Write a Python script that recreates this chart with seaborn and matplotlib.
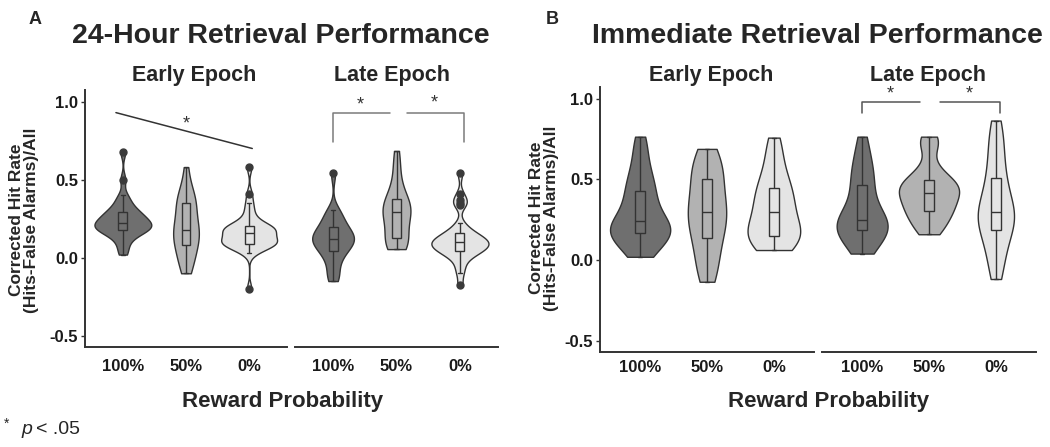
import numpy as np
import pandas as pd
import matplotlib
matplotlib.use("Agg")
import matplotlib.pyplot as plt
import seaborn as sns

# ---------------- data ----------------
categories = ["100%", "50%", "0%"]
y_ticks = [-0.5, 0.0, 0.5, 1.0]
y_tick_labels = ["-0.5", "0.0", "0.5", "1.0"]

# Panel A: 24-hour retrieval
a_early_100 = [0.02, 0.06, 0.10, 0.13, 0.15, 0.16, 0.17, 0.178, 0.185, 0.19, 0.20, 0.205,
               0.21, 0.215, 0.22, 0.23, 0.24, 0.25, 0.26, 0.27, 0.28, 0.29, 0.30, 0.32,
               0.34, 0.37, 0.40, 0.50, 0.68]
a_early_50 = [-0.10, -0.07, -0.03, 0.00, 0.03, 0.05, 0.08, 0.10, 0.12, 0.14, 0.155, 0.17, 0.18,
              0.20, 0.22, 0.25, 0.28, 0.31, 0.35, 0.36, 0.37, 0.39, 0.42, 0.48, 0.58]
a_early_0 = [-0.20, 0.03, 0.05, 0.065, 0.075, 0.08, 0.085, 0.088, 0.09, 0.10, 0.105, 0.11,
             0.115, 0.12, 0.13, 0.14, 0.16, 0.165, 0.17, 0.175, 0.18, 0.185, 0.19, 0.195,
             0.20, 0.21, 0.22, 0.24, 0.27, 0.31, 0.35, 0.41, 0.58]
a_late_100 = [-0.15, -0.12, -0.08, -0.03, 0.00, 0.03, 0.045, 0.06, 0.08, 0.09, 0.10, 0.11, 0.12,
              0.13, 0.14, 0.15, 0.16, 0.18, 0.195, 0.21, 0.23, 0.26, 0.29, 0.305, 0.54]
a_late_50 = [0.055, 0.065, 0.075, 0.085, 0.10, 0.115, 0.128, 0.16, 0.20, 0.23, 0.25, 0.27, 0.29,
             0.30, 0.31, 0.32, 0.335, 0.35, 0.374, 0.39, 0.42, 0.47, 0.54, 0.61, 0.684]
a_late_0 = [-0.175, -0.10, -0.06, -0.02, 0.005, 0.02, 0.03, 0.04, 0.045, 0.055, 0.06, 0.07,
            0.075, 0.08, 0.085, 0.09, 0.10, 0.105, 0.11, 0.115, 0.12, 0.13, 0.14, 0.15,
            0.156, 0.17, 0.19, 0.22, 0.34, 0.35, 0.37, 0.41, 0.54]

# Panel B: immediate retrieval
b_early_100 = [0.02, 0.035, 0.06, 0.09, 0.11, 0.13, 0.145, 0.155, 0.166, 0.175, 0.18, 0.185,
               0.19, 0.20, 0.21, 0.225, 0.245, 0.26, 0.28, 0.30, 0.33, 0.36, 0.39, 0.41,
               0.43, 0.46, 0.49, 0.52, 0.55, 0.60, 0.66, 0.72, 0.766]
b_early_50 = [-0.135, -0.10, -0.05, 0.00, 0.05, 0.09, 0.135, 0.17, 0.20, 0.23, 0.255, 0.28, 0.30,
              0.325, 0.35, 0.38, 0.42, 0.46, 0.50, 0.53, 0.56, 0.59, 0.62, 0.655, 0.69]
b_early_0 = [0.062, 0.08, 0.10, 0.12, 0.13, 0.14, 0.15, 0.17, 0.19, 0.21, 0.23, 0.26, 0.30,
             0.32, 0.34, 0.37, 0.40, 0.43, 0.45, 0.48, 0.52, 0.57, 0.63, 0.70, 0.76]
b_late_100 = [0.04, 0.07, 0.10, 0.13, 0.15, 0.17, 0.186, 0.20, 0.21, 0.22, 0.23, 0.24, 0.248,
              0.27, 0.30, 0.34, 0.38, 0.42, 0.466, 0.50, 0.54, 0.58, 0.62, 0.69, 0.766]
b_late_50 = [0.16, 0.18, 0.20, 0.22, 0.245, 0.265, 0.28, 0.295, 0.306, 0.32, 0.335, 0.35,
             0.36, 0.375, 0.39, 0.405, 0.418, 0.425, 0.435, 0.445, 0.455, 0.465, 0.475,
             0.485, 0.497, 0.51, 0.53, 0.56, 0.60, 0.70, 0.73, 0.75, 0.766]
b_late_0 = [-0.118, -0.06, 0.00, 0.06, 0.10, 0.14, 0.186, 0.21, 0.23, 0.25, 0.27, 0.285, 0.30,
            0.32, 0.35, 0.39, 0.43, 0.47, 0.507, 0.56, 0.62, 0.68, 0.74, 0.80, 0.866]

# ---------------- style ----------------
sns.set_style("white")
plt.rcParams["font.family"] = ["Liberation Sans", "DejaVu Sans"]

W, H = 1050, 447
fig = plt.figure(figsize=(W / 100, H / 100), dpi=100)

palette = {"100%": "#6f6f6f", "50%": "#b2b2b2", "0%": "#e4e4e4"}
edge = "#333333"
YLIM = (-0.57, 1.075)


def nrd0(kde):
    """R's default bandwidth rule (bw.nrd0), expressed as a scipy factor."""
    x = np.asarray(kde.dataset).ravel()
    sd = np.std(x, ddof=1)
    q75, q25 = np.percentile(x, [75, 25])
    lo = min(sd, (q75 - q25) / 1.34)
    if lo <= 0:
        lo = sd
    return 0.9 * lo * len(x) ** (-0.2) / sd


def add_ax(x0, x1, ytop, ybot):
    return fig.add_axes([x0 / W, 1 - ybot / H, (x1 - x0) / W, (ybot - ytop) / H])


def ftext(x, y, s, **kw):
    fig.text(x / W, 1 - y / H, s, **kw)


def draw(ax, groups, first, pad=6):
    df = pd.DataFrame({
        "prob": np.repeat(categories, [len(g) for g in groups]),
        "rate": np.concatenate(groups),
    })
    sns.violinplot(data=df, x="prob", y="rate", hue="prob", order=categories,
                   hue_order=categories, palette=palette, cut=0, inner=None,
                   density_norm="area", common_norm=True, width=0.9, linewidth=1.0,
                   linecolor=edge, bw_method=nrd0, legend=False, ax=ax)
    sns.boxplot(data=df, x="prob", y="rate", hue="prob", order=categories,
                hue_order=categories, palette=palette, width=0.14, linewidth=1.0,
                linecolor=edge, fliersize=5,
                flierprops=dict(marker="o", markerfacecolor="#3a3a3a",
                                markeredgecolor="#3a3a3a"),
                legend=False, ax=ax)
    ax.set_xlim(-0.6, 2.6)
    ax.set_ylim(*YLIM)
    ax.set_xlabel("")
    ax.set_ylabel("")
    for s in ["top", "right"]:
        ax.spines[s].set_visible(False)
    ax.spines["bottom"].set_color(edge)
    ax.spines["bottom"].set_linewidth(1.4)
    ax.tick_params(axis="x", length=3, width=1, color=edge, pad=pad, labelsize=12)
    for lab in ax.get_xticklabels():
        lab.set_fontweight("bold")
        lab.set_color("#1a1a1a")
    if first:
        ax.spines["left"].set_color(edge)
        ax.spines["left"].set_linewidth(1.4)
        ax.set_yticks(y_ticks)
        ax.set_yticklabels(y_tick_labels, fontweight="bold", color="#1a1a1a")
        ax.tick_params(axis="y", length=3, width=1, color=edge, pad=2, labelsize=12,
                       left=True)
    else:
        ax.spines["left"].set_visible(False)
        ax.set_yticks([])


# Panel A axes
ax_a1 = add_ax(85, 287, 90.0, 346.6)
ax_a2 = add_ax(295, 498, 90.0, 346.6)
# Panel B axes
ax_b1 = add_ax(600, 814, 86.9, 351.8)
ax_b2 = add_ax(822, 1036, 86.9, 351.8)

draw(ax_a1, [a_early_100, a_early_50, a_early_0], True)
draw(ax_a2, [a_late_100, a_late_50, a_late_0], False)
draw(ax_b1, [b_early_100, b_early_50, b_early_0], True, pad=3)
draw(ax_b2, [b_late_100, b_late_50, b_late_0], False, pad=3)

# significance annotations
ax_a1.plot([-0.11, 2.05], [0.93, 0.70], color="#333333", lw=1.1, clip_on=False)
ax_a1.text(1.0, 0.86, "*", ha="center", va="center", fontsize=13, color="#333333")

brk = "#7a7a7a"
ax_a2.plot([0, 0, 0.9], [0.74, 0.93, 0.93], color=brk, lw=1.1, clip_on=False)
ax_a2.plot([1.17, 2.06, 2.06], [0.93, 0.93, 0.74], color=brk, lw=1.1, clip_on=False)
ax_a2.text(0.43, 0.98, "*", ha="center", va="center", fontsize=13, color="#333333")
ax_a2.text(1.6, 0.99, "*", ha="center", va="center", fontsize=13, color="#333333")

brk_b = "#555555"
ax_b2.plot([0, 0, 0.87], [0.915, 0.98, 0.98], color=brk_b, lw=1.1, clip_on=False)
ax_b2.plot([1.17, 2.06, 2.06], [0.98, 0.98, 0.915], color=brk_b, lw=1.1, clip_on=False)
ax_b2.text(0.42, 1.03, "*", ha="center", va="center", fontsize=13, color="#333333")
ax_b2.text(1.6, 1.03, "*", ha="center", va="center", fontsize=13, color="#333333")

# ---------------- text ----------------
ftext(35, 20, "A", fontsize=13, fontweight="bold", ha="center", va="center")
ftext(552, 19, "B", fontsize=13, fontweight="bold", ha="center", va="center")
ftext(281, 36, "24-Hour Retrieval Performance", fontsize=20.5, fontweight="bold",
      ha="center", va="center")
ftext(817, 36, "Immediate Retrieval Performance", fontsize=20.5, fontweight="bold",
      ha="center", va="center")
for x, s in [(194, "Early Epoch"), (392, "Late Epoch"), (711, "Early Epoch"), (928, "Late Epoch")]:
    ftext(x, 76, s, fontsize=15.5, fontweight="bold", ha="center", va="center")

for xc, yc in [(24, 220), (544, 218)]:
    ftext(xc, yc, "Corrected Hit Rate\n(Hits-False Alarms)/All", fontsize=12.5,
          fontweight="bold", rotation=90, ha="center", va="center", linespacing=1.05)

ftext(283, 401, "Reward Probability", fontsize=16, fontweight="bold", ha="center", va="center")
ftext(829, 401, "Reward Probability", fontsize=16, fontweight="bold", ha="center", va="center")

ftext(4, 424, "*", fontsize=10, ha="left", va="center")
ftext(21, 430, "p", fontsize=14, fontstyle="italic", ha="left", va="center")
ftext(36, 430, "< .05", fontsize=14, ha="left", va="center")

fig.savefig("out.png", dpi=100)
